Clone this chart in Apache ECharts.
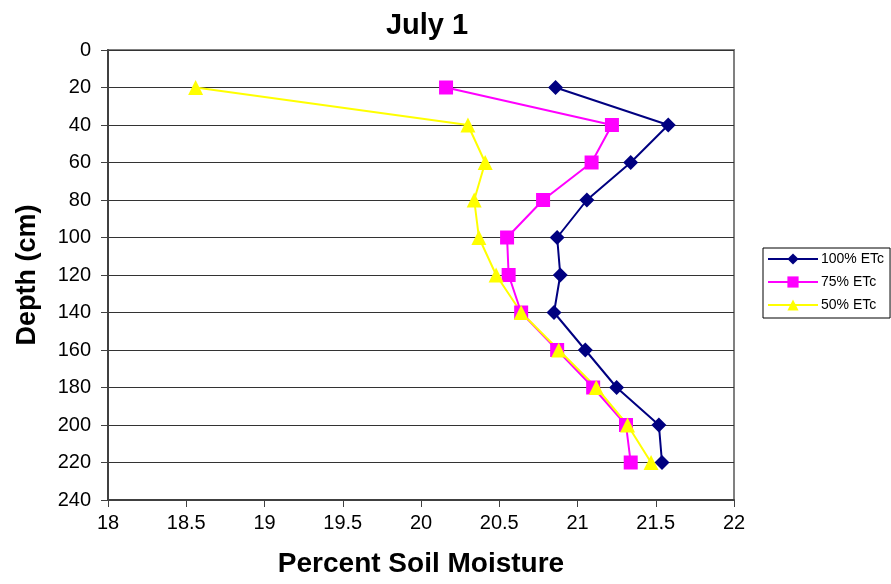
<!DOCTYPE html>
<html>
<head>
<meta charset="utf-8">
<script src="https://cdn.jsdelivr.net/npm/echarts@6/dist/echarts.min.js"></script>
<style>
  html, body { margin: 0; padding: 0; background: #fff; }
  #chart { width: 891px; height: 584px; }
</style>
</head>
<body>
<div id="chart"></div>
<script>
// Soil moisture profile by depth for three irrigation levels
const depths = [20, 40, 60, 80, 100, 120, 140, 160, 180, 200, 220];
const etc100 = [20.86, 21.58, 21.34, 21.06, 20.87, 20.89, 20.85, 21.05, 21.25, 21.52, 21.54];
const etc75  = [20.16, 21.22, 21.09, 20.78, 20.55, 20.56, 20.64, 20.87, 21.10, 21.31, 21.34];
const etc50  = [18.56, 20.30, 20.41, 20.34, 20.37, 20.48, 20.64, 20.88, 21.12, 21.32, 21.47];
const seriesNames = ['100% ETc', '75% ETc', '50% ETc'];
const xTicks = { min: 18, max: 22, step: 0.5 };
const yTicks = { min: 0, max: 240, step: 20 };

const FONT = 'Liberation Sans, Arial, sans-serif';

function pairs(values) {
  return values.map((v, i) => [v, depths[i]]);
}

function lineSeries(name, values, color, symbol, size) {
  return {
    name: name,
    type: 'line',
    data: pairs(values),
    symbol: symbol,
    symbolSize: size,
    itemStyle: { color: color },
    lineStyle: { color: color, width: 2 },
    emphasis: { disabled: true },
    animation: false
  };
}

const chart = echarts.init(document.getElementById('chart'), null, { renderer: 'canvas' });
chart.setOption({
  backgroundColor: '#ffffff',
  animation: false,
  title: {
    text: 'July 1',
    left: 422,
    top: 6,
    textAlign: 'center',
    textStyle: { fontFamily: FONT, fontSize: 29, fontWeight: 'bold', color: '#000' }
  },
  grid: {
    left: 108, right: 157, top: 50, bottom: 84,
    show: true, borderColor: '#808080', borderWidth: 2, backgroundColor: '#ffffff'
  },
  legend: {
    orient: 'vertical',
    left: 763, top: 248,
    width: 126,
    padding: [4, 6, 6, 4],
    itemGap: 9,
    itemWidth: 50,
    itemHeight: 14,
    borderColor: '#000', borderWidth: 1,
    textStyle: { fontFamily: FONT, fontSize: 14, color: '#000', padding: [0, 0, 0, -2] },
    data: seriesNames
  },
  xAxis: {
    type: 'value',
    min: xTicks.min, max: xTicks.max, interval: xTicks.step,
    name: 'Percent Soil Moisture',
    nameLocation: 'middle',
    nameGap: 50,
    nameTextStyle: { fontFamily: FONT, fontSize: 28, fontWeight: 'bold', color: '#000' },
    axisLine: { show: true, onZero: false, lineStyle: { color: '#404040', width: 2 } },
    axisTick: { show: true, inside: false, length: 7, lineStyle: { color: '#404040' } },
    axisLabel: { fontFamily: FONT, fontSize: 20, color: '#000', margin: 13 },
    splitLine: { show: false }
  },
  yAxis: {
    type: 'value',
    inverse: true,
    min: yTicks.min, max: yTicks.max, interval: yTicks.step,
    name: 'Depth (cm)',
    nameLocation: 'middle',
    nameGap: 67,
    nameRotate: 90,
    nameTextStyle: { fontFamily: FONT, fontSize: 27, fontWeight: 'bold', color: '#000' },
    axisLine: { show: true, onZero: false, lineStyle: { color: '#404040', width: 2 } },
    axisTick: { show: true, inside: false, length: 7, lineStyle: { color: '#404040' } },
    axisLabel: { fontFamily: FONT, fontSize: 20, color: '#000', margin: 17 },
    splitLine: { show: true, lineStyle: { color: '#333333', width: 1 } }
  },
  series: [
    lineSeries(seriesNames[0], etc100, '#000080', 'diamond', 15),
    lineSeries(seriesNames[1], etc75, '#FF00FF', 'rect', 14),
    lineSeries(seriesNames[2], etc50, '#FFFF00', 'triangle', 15)
  ]
});
</script>
</body>
</html>
